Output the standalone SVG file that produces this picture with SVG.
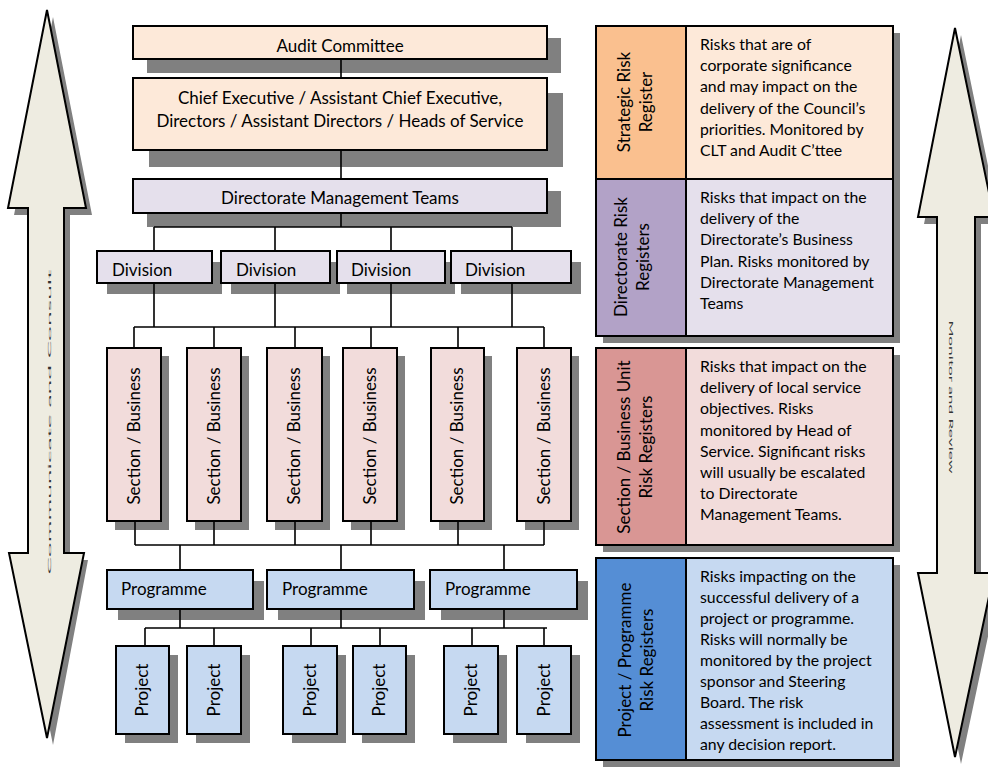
<svg xmlns="http://www.w3.org/2000/svg" width="988" height="767" viewBox="0 0 988 767">
<style>
text{font-family:Lato,"Liberation Sans",sans-serif;fill:#000}
.t{font-size:17px}
.d{font-size:15.8px}
.c{text-anchor:middle}
.sh{fill:#808080}
.bx{stroke:#000;stroke-width:2}
.peach{fill:#FDE9D9}
.lav{fill:#E5E0EC}
.pink{fill:#F2DCDB}
.blue{fill:#C6D9F1}
.arrow{fill:#EEECE1;stroke:#000;stroke-width:2;stroke-linejoin:miter}
.squash{fill:#333}
#connectors path{stroke:#000;stroke-width:1.6;fill:none}
</style>

<!-- double arrows -->
<g id="arrow-left">
  <path class="sh" d="M53,17 L92,215 L70,215 L70,560 L88,560 L53,745 L16,560 L34,560 L34,215 L14,215 Z"/>
  <path class="arrow" d="M47,10 L86,208 L64,208 L64,553 L84,553 L47,738 L9,553 L28,553 L28,208 L8,208 Z"/>
  <text class="squash c" transform="translate(51,422) rotate(-90) scale(1,0.15)" font-size="26" textLength="305" lengthAdjust="spacingAndGlyphs">Communicate and Consult</text>
</g>
<g id="arrow-right">
  <path class="sh" d="M961,35 L1000,224 L981,224 L981,580 L1000,580 L961,764 L924,580 L943,580 L943,224 L924,224 Z"/>
  <path class="arrow" d="M955,28 L994,217 L975,217 L975,573 L994,573 L955,757 L918,573 L937,573 L937,217 L918,217 Z"/>
  <text class="squash c" transform="translate(949,397) rotate(90) scale(1,0.3)" font-size="18" textLength="153" lengthAdjust="spacingAndGlyphs">Monitor and Review</text>
</g>

<!-- shadows of org boxes -->
<g id="shadows">
  <rect class="sh" x="147" y="38" width="414" height="35"/>
  <rect class="sh" x="149" y="93" width="414" height="74"/>
  <rect class="sh" x="147" y="191" width="414" height="36"/>
  <rect class="sh" x="107" y="262" width="115" height="32"/>
  <rect class="sh" x="231" y="262" width="109" height="32"/>
  <rect class="sh" x="347" y="262" width="108" height="32"/>
  <rect class="sh" x="461" y="262" width="120" height="32"/>
  <rect class="sh" x="115" y="356" width="54" height="174"/>
  <rect class="sh" x="195" y="356" width="54" height="174"/>
  <rect class="sh" x="275" y="356" width="55" height="174"/>
  <rect class="sh" x="351" y="356" width="54" height="174"/>
  <rect class="sh" x="439" y="356" width="53" height="174"/>
  <rect class="sh" x="525" y="356" width="54" height="174"/>
  <rect class="sh" x="118" y="581" width="146" height="39"/>
  <rect class="sh" x="278" y="581" width="147" height="39"/>
  <rect class="sh" x="441" y="581" width="147" height="39"/>
  <rect class="sh" x="125" y="655" width="53" height="88"/>
  <rect class="sh" x="196" y="655" width="54" height="88"/>
  <rect class="sh" x="292" y="655" width="54" height="88"/>
  <rect class="sh" x="362" y="655" width="53" height="88"/>
  <rect class="sh" x="453" y="655" width="54" height="88"/>
  <rect class="sh" x="526" y="655" width="54" height="88"/>
  <rect class="sh" x="603" y="33" width="297" height="310"/>
  <rect class="sh" x="603" y="355" width="297" height="197"/>
  <rect class="sh" x="603" y="565" width="297" height="202"/>
</g>

<g id="connectors">
  <path d="M341,59 V78 M341,150 V179 M341,213 V227"/>
  <path d="M154,227 H512 M154,227 V251 M275,227 V251 M391,227 V251 M512,227 V251"/>
  <path d="M154,283 V327 M275,283 V327 M391,283 V327 M512,283 V327"/>
  <path d="M134,327 H544 M134,327 V348 M214,327 V348 M295,327 V348 M371,327 V348 M458,327 V348 M544,327 V348"/>
  <path d="M135,521 V545 M214,521 V545 M295,521 V545 M371,521 V545 M458,521 V545 M544,521 V545 M135,545 H544"/>
  <path d="M180,545 V570 M341,545 V570 M504,545 V570"/>
  <path d="M180,609 V628 M341,609 V628 M504,609 V628 M145,628 H547"/>
  <path d="M145,628 V646 M214,628 V646 M311,628 V646 M380,628 V646 M472,628 V646 M544,628 V646"/>
</g>

<g id="audit-committee">
  <rect class="bx peach" x="133" y="26" width="414" height="33"/>
  <text class="t c" x="340" y="52">Audit Committee</text>
</g>
<g id="chief-executive">
  <rect class="bx peach" x="133" y="78" width="414" height="72"/>
  <text class="t c" x="340" y="104">Chief Executive / Assistant Chief Executive,</text>
  <text class="t c" x="340" y="127">Directors / Assistant Directors / Heads of Service</text>
</g>
<g id="directorate-management-teams">
  <rect class="bx lav" x="133" y="179" width="414" height="34"/>
  <text class="t c" x="340" y="204">Directorate Management Teams</text>
</g>

<g id="division-1"><rect class="bx lav" x="97" y="251" width="115" height="32"/><text class="t" x="112" y="276">Division</text></g>
<g id="division-2"><rect class="bx lav" x="221" y="251" width="109" height="32"/><text class="t" x="236" y="276">Division</text></g>
<g id="division-3"><rect class="bx lav" x="337" y="251" width="108" height="32"/><text class="t" x="351" y="276">Division</text></g>
<g id="division-4"><rect class="bx lav" x="451" y="251" width="120" height="32"/><text class="t" x="465" y="276">Division</text></g>

<g id="section-1"><rect class="bx pink" x="107" y="348" width="54" height="173"/><text class="t c" transform="translate(140,436) rotate(-90)">Section / Business</text></g>
<g id="section-2"><rect class="bx pink" x="187" y="348" width="54" height="173"/><text class="t c" transform="translate(220,436) rotate(-90)">Section / Business</text></g>
<g id="section-3"><rect class="bx pink" x="267" y="348" width="55" height="173"/><text class="t c" transform="translate(300,436) rotate(-90)">Section / Business</text></g>
<g id="section-4"><rect class="bx pink" x="343" y="348" width="54" height="173"/><text class="t c" transform="translate(376,436) rotate(-90)">Section / Business</text></g>
<g id="section-5"><rect class="bx pink" x="431" y="348" width="53" height="173"/><text class="t c" transform="translate(463,436) rotate(-90)">Section / Business</text></g>
<g id="section-6"><rect class="bx pink" x="517" y="348" width="54" height="173"/><text class="t c" transform="translate(550,436) rotate(-90)">Section / Business</text></g>

<g id="programme-1"><rect class="bx blue" x="107" y="570" width="146" height="39"/><text class="t" x="121" y="595">Programme</text></g>
<g id="programme-2"><rect class="bx blue" x="267" y="570" width="147" height="39"/><text class="t" x="282" y="595">Programme</text></g>
<g id="programme-3"><rect class="bx blue" x="430" y="570" width="147" height="39"/><text class="t" x="445" y="595">Programme</text></g>

<g id="project-1"><rect class="bx blue" x="116" y="646" width="53" height="88"/><text class="t c" transform="translate(148,690) rotate(-90)">Project</text></g>
<g id="project-2"><rect class="bx blue" x="187" y="646" width="54" height="88"/><text class="t c" transform="translate(220,690) rotate(-90)">Project</text></g>
<g id="project-3"><rect class="bx blue" x="283" y="646" width="54" height="88"/><text class="t c" transform="translate(316,690) rotate(-90)">Project</text></g>
<g id="project-4"><rect class="bx blue" x="353" y="646" width="53" height="88"/><text class="t c" transform="translate(385,690) rotate(-90)">Project</text></g>
<g id="project-5"><rect class="bx blue" x="444" y="646" width="54" height="88"/><text class="t c" transform="translate(477,690) rotate(-90)">Project</text></g>
<g id="project-6"><rect class="bx blue" x="517" y="646" width="54" height="88"/><text class="t c" transform="translate(550,690) rotate(-90)">Project</text></g>

<!-- register panels -->
<g id="strategic-risk-register">
  <rect x="596" y="26" width="90" height="153" fill="#FAC08F"/>
  <rect x="686" y="26" width="207" height="153" fill="#FDE9D9"/>
  <text class="t c" transform="translate(630,102) rotate(-90)">Strategic Risk</text>
  <text class="t c" transform="translate(652,102) rotate(-90)">Register</text>
  <text class="d" x="700" y="50">Risks that are of</text>
  <text class="d" x="700" y="71">corporate significance</text>
  <text class="d" x="700" y="92">and may impact on the</text>
  <text class="d" x="700" y="114">delivery of the Council’s</text>
  <text class="d" x="700" y="135">priorities. Monitored by</text>
  <text class="d" x="700" y="156">CLT and Audit C’ttee</text>
</g>
<g id="directorate-risk-registers">
  <rect x="596" y="179" width="90" height="157" fill="#B2A2C7"/>
  <rect x="686" y="179" width="207" height="157" fill="#E5E0EC"/>
  <text class="t c" transform="translate(627,257) rotate(-90)">Directorate Risk</text>
  <text class="t c" transform="translate(649,257) rotate(-90)">Registers</text>
  <text class="d" x="700" y="203">Risks that impact on the</text>
  <text class="d" x="700" y="224">delivery of the</text>
  <text class="d" x="700" y="245">Directorate’s Business</text>
  <text class="d" x="700" y="267">Plan.  Risks monitored by</text>
  <text class="d" x="700" y="288">Directorate Management</text>
  <text class="d" x="700" y="309">Teams</text>
</g>
<g id="panel-frame-top">
  <rect x="596" y="26" width="297" height="310" fill="none" stroke="#000" stroke-width="2"/>
  <path d="M596,179 H893 M686,26 V336" stroke="#000" stroke-width="2"/>
</g>
<g id="section-business-unit-risk-registers">
  <rect x="596" y="348" width="90" height="197" fill="#D99694"/>
  <rect x="686" y="348" width="207" height="197" fill="#F2DCDB"/>
  <rect x="596" y="348" width="297" height="197" fill="none" stroke="#000" stroke-width="2"/>
  <path d="M686,348 V545" stroke="#000" stroke-width="2"/>
  <text class="t c" transform="translate(630,447) rotate(-90)">Section / Business Unit</text>
  <text class="t c" transform="translate(652,447) rotate(-90)">Risk Registers</text>
  <text class="d" x="700" y="372">Risks that impact on the</text>
  <text class="d" x="700" y="393">delivery of local service</text>
  <text class="d" x="700" y="414">objectives.  Risks</text>
  <text class="d" x="700" y="436">monitored by Head of</text>
  <text class="d" x="700" y="457">Service.  Significant risks</text>
  <text class="d" x="700" y="478">will usually be escalated</text>
  <text class="d" x="700" y="499">to Directorate</text>
  <text class="d" x="700" y="520">Management Teams.</text>
</g>
<g id="project-programme-risk-registers">
  <rect x="596" y="558" width="90" height="202" fill="#558ED5"/>
  <rect x="686" y="558" width="207" height="202" fill="#C6D9F1"/>
  <rect x="596" y="558" width="297" height="202" fill="none" stroke="#000" stroke-width="2"/>
  <path d="M686,558 V760" stroke="#000" stroke-width="2"/>
  <text class="t c" transform="translate(631,660) rotate(-90)">Project / Programme</text>
  <text class="t c" transform="translate(653,660) rotate(-90)">Risk Registers</text>
  <text class="d" x="700" y="582">Risks impacting on the</text>
  <text class="d" x="700" y="603">successful delivery of a</text>
  <text class="d" x="700" y="624">project or programme.</text>
  <text class="d" x="700" y="645">Risks will normally be</text>
  <text class="d" x="700" y="666">monitored by the project</text>
  <text class="d" x="700" y="687">sponsor and Steering</text>
  <text class="d" x="700" y="708">Board. The risk</text>
  <text class="d" x="700" y="729">assessment is included in</text>
  <text class="d" x="700" y="750">any decision report.</text>
</g>
</svg>
